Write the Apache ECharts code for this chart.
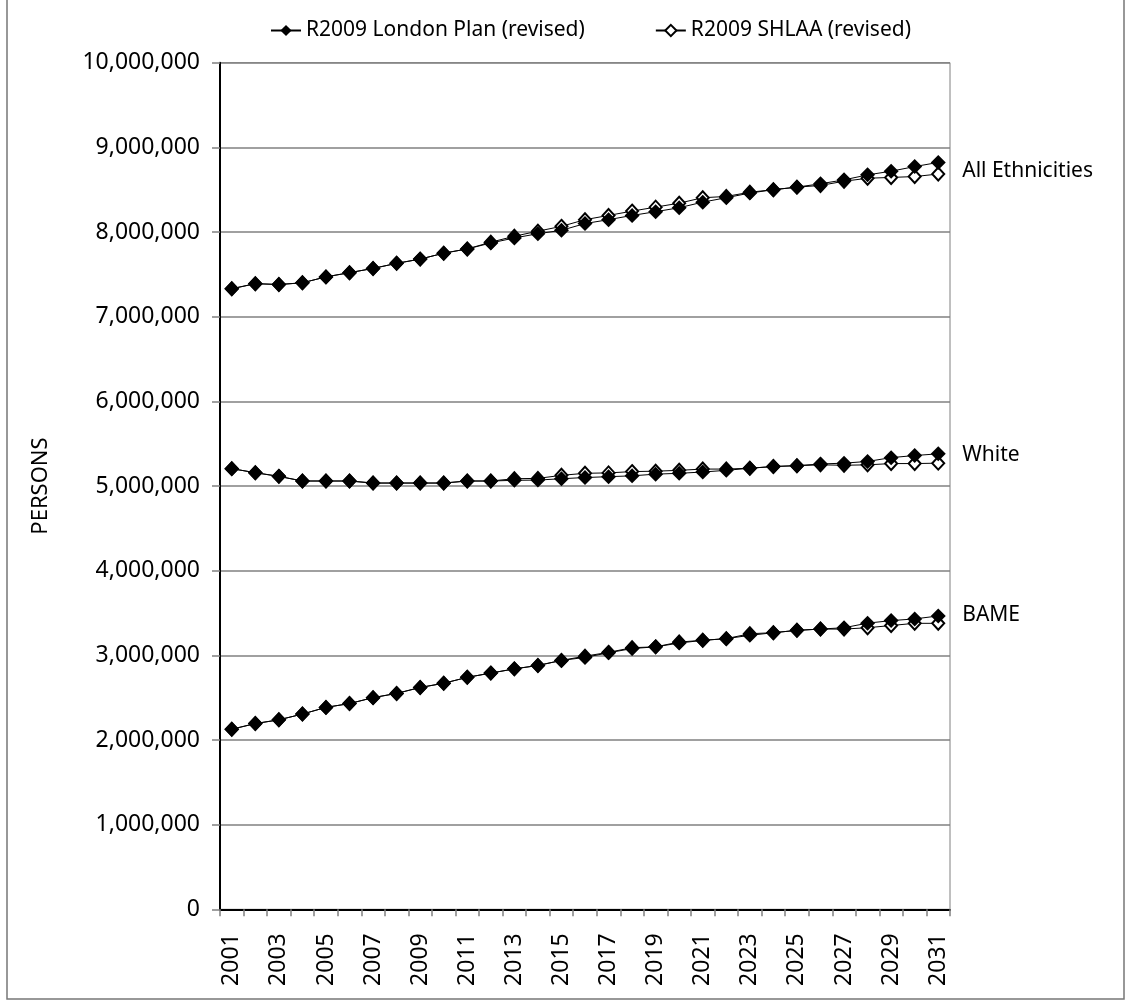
<!DOCTYPE html>
<html>
<head>
<meta charset="utf-8">
<script src="https://cdn.jsdelivr.net/npm/echarts@6/dist/echarts.min.js"></script>
<style>
html,body{margin:0;padding:0;background:#fff;}
#chart{width:1127px;height:1002px;}
</style>
</head>
<body>
<div id="chart"></div>
<script>
var years = ['2001','2002','2003','2004','2005','2006','2007','2008','2009','2010','2011','2012','2013','2014','2015','2016','2017','2018','2019','2020','2021','2022','2023','2024','2025','2026','2027','2028','2029','2030','2031'];
var yTicks = [0,1000000,2000000,3000000,4000000,5000000,6000000,7000000,8000000,9000000,10000000];
var seriesNames = ['R2009 London Plan (revised)','R2009 SHLAA (revised)'];
var groupLabels = ['All Ethnicities','White','BAME'];

var allLP = [7330000,7390000,7380000,7400000,7470000,7520000,7570000,7630000,7680000,7750000,7800000,7870000,7930000,7980000,8020000,8100000,8146000,8196000,8240000,8287000,8353000,8405000,8460000,8500000,8530000,8570000,8616000,8675000,8718000,8773000,8822000];
var allSH = [7330000,7390000,7380000,7400000,7470000,7520000,7570000,7630000,7680000,7750000,7800000,7880000,7950000,8010000,8067000,8146000,8196000,8247000,8294000,8341000,8405000,8420000,8470000,8500000,8530000,8550000,8600000,8635000,8645000,8655000,8685000];
var whiteLP = [5205000,5157000,5114000,5059000,5059000,5059000,5035000,5035000,5035000,5035000,5059000,5059000,5067000,5070000,5086000,5100000,5110000,5120000,5140000,5150000,5165000,5185000,5210000,5230000,5240000,5260000,5270000,5290000,5335000,5360000,5380000];
var whiteSH = [5205000,5157000,5114000,5059000,5059000,5059000,5035000,5035000,5035000,5035000,5059000,5059000,5086000,5090000,5126000,5150000,5155000,5170000,5175000,5185000,5200000,5200000,5210000,5230000,5240000,5250000,5245000,5250000,5265000,5265000,5270000];
var bameLP = [2127000,2194000,2238000,2306000,2385000,2430000,2500000,2550000,2620000,2670000,2740000,2790000,2840000,2880000,2940000,2975000,3030000,3080000,3100000,3145000,3177000,3197000,3236000,3267000,3295000,3310000,3326000,3380000,3410000,3430000,3465000];
var bameSH = [2127000,2194000,2238000,2306000,2385000,2430000,2500000,2550000,2620000,2670000,2740000,2790000,2840000,2880000,2940000,2990000,3035000,3090000,3100000,3157000,3177000,3197000,3255000,3267000,3295000,3310000,3310000,3326000,3352000,3378000,3378000];

var FONT = '"Noto Sans", "Open Sans", sans-serif';
var chart = echarts.init(document.getElementById('chart'), null, {renderer:'canvas'});

function lpSeries(data, label, dy){
  return {
    name: seriesNames[0], type:'line', data:data, z:4,
    symbol:'diamond', symbolSize:[15,15], showAllSymbol:true,
    lineStyle:{color:'#000', width:1},
    itemStyle:{color:'#000', borderColor:'#000', borderWidth:0},
    emphasis:{disabled:true}, animation:false,
    endLabel:{show:true, formatter:label, distance:24, offset:[0,dy], color:'#000', fontFamily:FONT, fontSize:21}
  };
}
function shSeries(data){
  return {
    name: seriesNames[1], type:'line', data:data, z:3,
    symbol:'diamond', symbolSize:[12,13], showAllSymbol:true,
    lineStyle:{color:'#000', width:1},
    itemStyle:{color:'#fff', borderColor:'#000', borderWidth:2},
    emphasis:{disabled:true}, animation:false
  };
}

chart.setOption({
  backgroundColor:'#fff',
  animation:false,
  textStyle:{fontFamily:FONT},
  legend:{
    data:seriesNames, left:270, top:20, itemWidth:30, itemHeight:14, itemGap:70,
    textStyle:{fontSize:21, color:'#000', fontFamily:FONT}, padding:0
  },
  grid:{left:220, right:177, top:62.7, bottom:92.7, show:true, borderColor:'#808080', borderWidth:1, backgroundColor:'transparent'},
  xAxis:{
    type:'category', data:years, boundaryGap:true,
    axisLine:{lineStyle:{color:'#000', width:2}},
    axisTick:{show:true, interval:0, length:7, lineStyle:{color:'#808080', width:1.5}},
    axisLabel:{interval:1, rotate:90, fontSize:23, margin:24, color:'#000', fontFamily:FONT},
    splitLine:{show:false}
  },
  yAxis:{
    type:'value', min:yTicks[0], max:yTicks[yTicks.length-1], interval:yTicks[1]-yTicks[0],
    name:'PERSONS', nameLocation:'middle', nameRotate:90, nameGap:168,
    nameTextStyle:{fontSize:22, color:'#000', fontFamily:FONT},
    axisLine:{show:true, lineStyle:{color:'#000', width:2}},
    axisTick:{show:true, length:8, lineStyle:{color:'#808080', width:1.5}},
    axisLabel:{fontSize:23, margin:20, color:'#000', fontFamily:FONT,
      formatter:function(v){return v.toLocaleString('en-US');}},
    splitLine:{show:true, lineStyle:{color:'#808080', width:1.5}}
  },
  graphic:[{type:'rect', shape:{x:7, y:-5, width:1117, height:1004}, style:{fill:'none', stroke:'#777', lineWidth:1.5}, silent:true, z:-1}],
  series:[
    lpSeries(allLP, groupLabels[0], 9),
    lpSeries(whiteLP, groupLabels[1], 1),
    lpSeries(bameLP, groupLabels[2], -1),
    shSeries(allSH), shSeries(whiteSH), shSeries(bameSH)
  ]
});
</script>
</body>
</html>
